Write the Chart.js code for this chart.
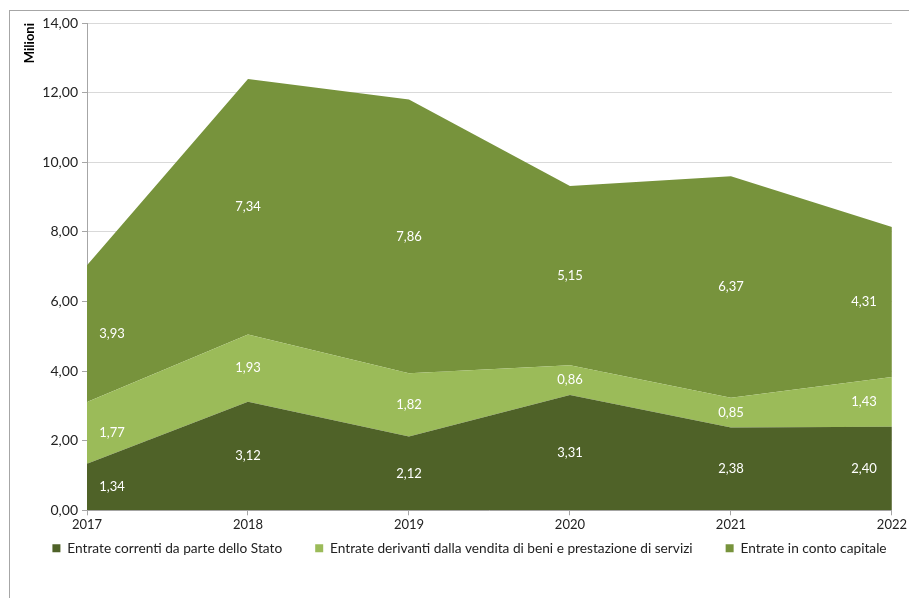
<!DOCTYPE html>
<html>
<head>
<meta charset="utf-8">
<script src="https://cdn.jsdelivr.net/npm/chart.js@4.4.1/dist/chart.umd.min.js"></script>
<style>
  html, body { margin: 0; padding: 0; background: #fff; }
  #wrap { position: relative; width: 909px; height: 598px; }
  #frame { position: absolute; left: 9px; top: 10px; width: 920px; height: 600px;
           border-top: 1px solid #a6a6a6; border-left: 1px solid #a6a6a6; }
  canvas { position: absolute; left: 0; top: 0; }
</style>
</head>
<body>
<div id="wrap">
  <div id="frame"></div>
  <canvas id="grafico" width="909" height="598"></canvas>
</div>
<script>
const anni = ['2017', '2018', '2019', '2020', '2021', '2022'];
const entrateCorrenti = [1.34, 3.12, 2.12, 3.31, 2.38, 2.40];
const entrateVendita = [1.77, 1.93, 1.82, 0.86, 0.85, 1.43];
const entrateCapitale = [3.93, 7.34, 7.86, 5.15, 6.37, 4.31];
const tickY = [0, 2, 4, 6, 8, 10, 12, 14];

const FONT = 'Lato, "Open Sans", sans-serif';

function formatta(v) {
  return v.toFixed(2).replace('.', ',');
}

// etichette bianche al centro di ogni fascia
const etichette = {
  id: 'etichette',
  afterDatasetsDraw(chart) {
    const ctx = chart.ctx;
    const y = chart.scales.y;
    const x = chart.scales.x;
    ctx.save();
    ctx.fillStyle = '#ffffff';
    ctx.font = '13px ' + FONT;
    ctx.textAlign = 'center';
    ctx.textBaseline = 'middle';
    anni.forEach((a, i) => {
      let base = 0;
      let px = x.getPixelForValue(i);
      if (i === 0) px += 25;
      if (i === anni.length - 1) px -= 28;
      chart.data.datasets.forEach(ds => {
        const v = ds.data[i];
        ctx.fillText(formatta(v), px, y.getPixelForValue(base + v / 2));
        base += v;
      });
    });
    ctx.restore();
  }
};

// la legenda sta subito sotto le etichette dell'asse x
const spostaLegenda = {
  id: 'spostaLegenda',
  afterLayout(chart) {
    const lg = chart.legend;
    const dy = lg.top - (chart.chartArea.bottom - 2);
    lg.top -= dy; lg.bottom -= dy;
    lg.left += 15; lg.right += 15;
  }
};

new Chart(document.getElementById('grafico'), {
  type: 'line',
  data: {
    labels: anni,
    datasets: [
      { label: 'Entrate correnti da parte dello Stato', data: entrateCorrenti,
        backgroundColor: '#4f6228', borderColor: '#4f6228', fill: 'origin' },
      { label: 'Entrate derivanti dalla vendita di beni e prestazione di servizi', data: entrateVendita,
        backgroundColor: '#9bbb59', borderColor: '#9bbb59', fill: '-1' },
      { label: 'Entrate in conto capitale', data: entrateCapitale,
        backgroundColor: '#77933c', borderColor: '#77933c', fill: '-1' }
    ]
  },
  options: {
    responsive: false,
    animation: false,
    elements: { point: { radius: 0 }, line: { borderWidth: 0, tension: 0 } },
    layout: { padding: { left: 0, right: 0, top: 23, bottom: 12 } },
    plugins: {
      tooltip: { enabled: false },
      legend: {
        position: 'bottom',
        labels: {
          font: { family: FONT, size: 13.7 }, color: '#222',
          boxWidth: 8, boxHeight: 8, padding: 33
        }
      }
    },
    scales: {
      x: {
        offset: false,
        grid: { drawOnChartArea: false, color: '#a6a6a6', tickLength: 5 },
        border: { color: '#a6a6a6' },
        ticks: { font: { family: FONT, size: 13 }, color: '#222', maxRotation: 0, padding: 2 },
        afterFit(s) { s.height = 19; }
      },
      y: {
        stacked: true,
        min: 0, max: 14,
        afterBuildTicks(s) { s.ticks = tickY.map(v => ({ value: v })); },
        grid: { color: '#d9d9d9', tickLength: 5, tickColor: '#a6a6a6' },
        border: { color: '#a6a6a6' },
        ticks: { font: { family: FONT, size: 14 }, color: '#222', padding: 4,
                 callback: v => formatta(v) },
        title: { display: true, text: 'Milioni', align: 'end',
                 font: { family: FONT, size: 13, weight: 'bold' }, color: '#000',
                 padding: { top: 22, bottom: 0 } },
        afterFit(s) { s.width = 87; }
      },
      // margine destro vuoto
      destra: {
        position: 'right',
        display: true,
        grid: { display: false },
        border: { display: false },
        ticks: { display: false },
        afterFit(s) { s.width = 16; }
      }
    }
  },
  plugins: [etichette, spostaLegenda]
});
</script>
</body>
</html>
